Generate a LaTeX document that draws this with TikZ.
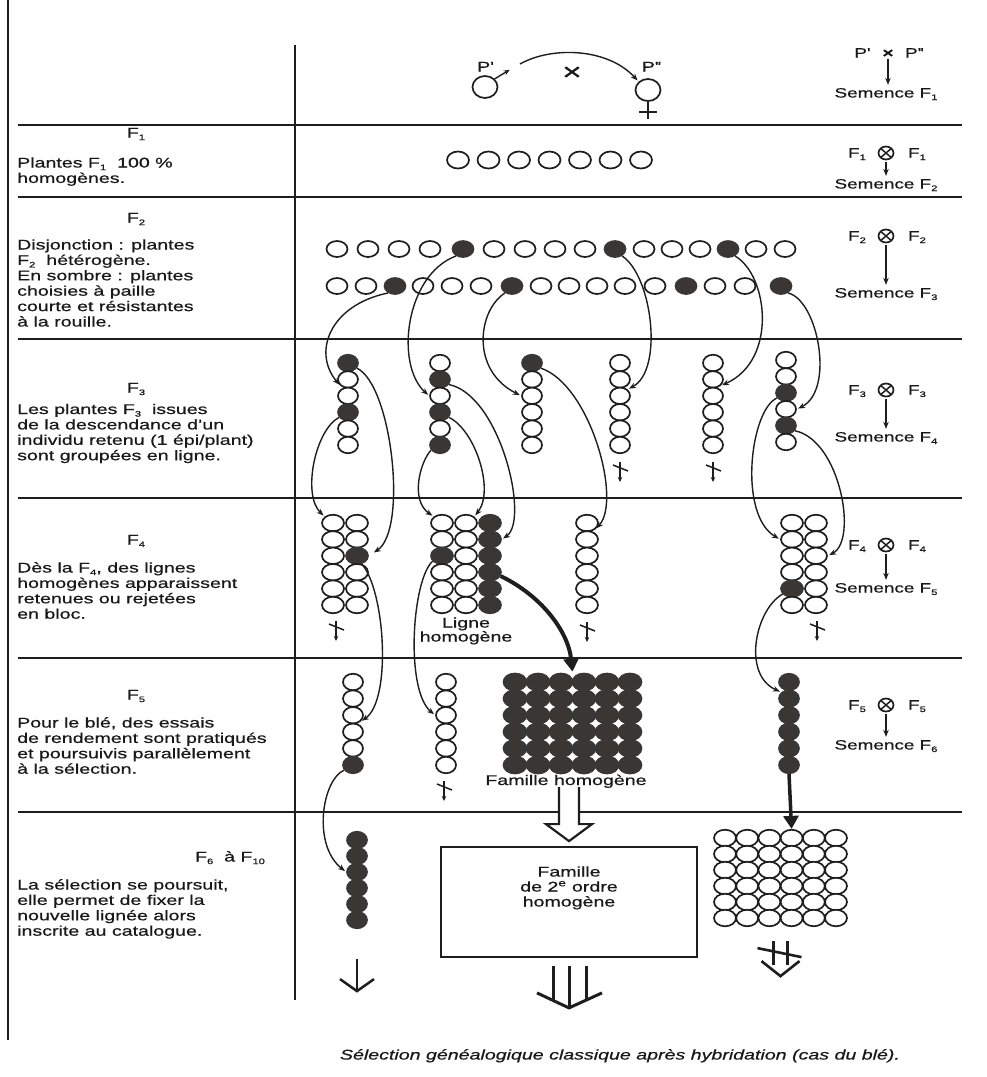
\documentclass[tikz,border=0pt]{standalone}
\usepackage{fontspec}
\setmainfont{Liberation Sans}[FakeStretch=1.4, FakeBold=0.6]
\usetikzlibrary{shapes.geometric,arrows.meta,calc}
\definecolor{ink}{RGB}{30,30,30}
\definecolor{dark}{RGB}{58,54,51}
\definecolor{txt}{RGB}{25,25,25}
\newcommand\subs[1]{\raisebox{-0.35ex}{\fontsize{8}{8}\selectfont #1}}
\newcommand\qs{\textquotesingle}
\newcommand\pcol[6]{\foreach \sty [count=\jj from 0] in {#6} {\node[plant,#5,\sty] (#1-\jj) at ({#2},{#3+#4*\jj}) {};}}
\newcommand\para[4]{\foreach \lline [count=\kk from 0] in {#4} {\node[tx] (#1-\kk) at ({#2},{#3+15.4*\kk}) {\lline};}}
\newcommand\rej[3]{\coordinate (#1) at (#2,#3);
 \draw[rejl,-{Stealth[length=5pt,width=4.5pt]}] ($(#1)+(0,-10)$) -- ($(#1)+(0,10)$);
 \draw[rejl] ($(#1)+(-7,-7)$) -- ($(#1)+(8,-1)$);}
\begin{document}
\begin{tikzpicture}[x=1pt,y=-1pt,
  tx/.style={font=\fontsize{14}{15}\selectfont, text=txt, inner sep=0pt, anchor=base west},
  lab/.style={font=\fontsize{14}{15}\selectfont, text=txt, inner sep=0pt, anchor=base},
  rlab/.style={font=\fontsize{13.5}{15}\selectfont, text=txt, inner sep=0pt, anchor=base},
  plant/.style={ellipse, draw=ink, line width=1.7pt, fill=white, inner sep=0pt},
  opn/.style={},
  ful/.style={fill=dark, draw=dark},
  sA/.style={minimum width=22pt, minimum height=17pt},
  sB/.style={minimum width=21pt, minimum height=16pt},
  sC/.style={minimum width=20pt, minimum height=16.5pt},
  sD/.style={minimum width=22pt, minimum height=16.5pt},
  sE/.style={minimum width=23pt, minimum height=17pt},
  link/.style={draw=ink, line width=1.4pt, -{Stealth[length=7pt,width=5.5pt]}, shorten >=1.5pt},
  thk/.style={draw=ink, line width=4pt, -{Triangle[length=13pt,width=15pt]}},
  hline/.style={draw=ink, line width=2pt},
  rejl/.style={draw=ink, line width=1.5pt},
  otimes/.style={ellipse, draw=ink, line width=1.7pt, minimum width=15pt, minimum height=13pt, inner sep=0pt,
    path picture={\draw[line width=1.5pt,ink] (path picture bounding box.north west) -- (path picture bounding box.south east) (path picture bounding box.north east) -- (path picture bounding box.south west);}},
]
\fill[white] (0,0) rectangle (986,1077);
\useasboundingbox (0,0) rectangle (986,1077);

% frame
\draw[ink,line width=1.5pt] (8,0) -- (8,1040);
\draw[ink,line width=2.5pt] (295,45) -- (295,1000);
\foreach \yy in {125,197,339,498,658,812} \draw[hline] (18,\yy) -- (962,\yy);

% left column texts
\node[lab] (lf1) at (136,137.5) {F\subs{1}};
\para{lt1}{17}{167.5}{{Plantes F\subs{1}\ \ 100 \%},{homogènes.}}
\node[lab] (lf2) at (136,222.5) {F\subs{2}};
\para{lt2}{17}{249.5}{{Disjonction : plantes},{F\subs{2}\ \ hétérogène.},{En sombre : plantes},{choisies à paille},{courte et résistantes},{à la rouille.}}
\node[lab] (lf3) at (136,392.5) {F\subs{3}};
\para{lt3}{17}{414}{{Les plantes F\subs{3}\ \ issues},{de la descendance d'un},{individu retenu (1 épi/plant)},{sont groupées en ligne.}}
\node[lab] (lf4) at (136,544.5) {F\subs{4}};
\para{lt4}{17}{572.5}{{Dès la F\subs{4}, des lignes},{homogènes apparaissent},{retenues ou rejetées},{en bloc.}}
\node[lab] (lf5) at (136,699.5) {F\subs{5}};
\para{lt5}{17}{727.5}{{Pour le blé, des essais},{de rendement sont pratiqués},{et poursuivis parallèlement},{à la sélection.}}
\node[lab] (lf6) at (230,861.5) {F\subs{6}\ \ à F\subs{10}};
\para{lt6}{17}{889.5}{{La sélection se poursuit,},{elle permet de fixer la},{nouvelle lignée alors},{inscrite au catalogue.}}

% right column
\node[rlab] (rpa) at (862,57.5) {P\qs};
\node[rlab,font=\bfseries\fontsize{13.5}{15}\selectfont] (rpx) at (888,57.5) {×};
\node[rlab] (rpb) at (914,57.5) {P\qs\qs};
\node[rlab] (rs1) at (886,97.5) {Semence F\subs{1}};
\draw[link,shorten <=1.5pt,shorten >=3pt] (rpx.south) -- (rpx.south |- rs1.north);
\foreach \k/\yo/\ys [evaluate=\k as \kn using int(\k+1)] in {1/153/188.5,2/236/297.5,3/390/441.5,4/545/592.5,5/705/749.5}{
  \node[rlab] (ra\k) at (857,{\yo+4.5}) {F\subs{\k}};
  \node[otimes] (ro\k) at (886,\yo) {};
  \node[rlab] (rb\k) at (917,{\yo+4.5}) {F\subs{\k}};
  \node[rlab] (rs\kn) at (886,\ys) {Semence F\subs{\kn}};
  \draw[link,shorten <=1.5pt,shorten >=3pt] (ro\k.south) -- (ro\k.south |- rs\kn.north);
}

% top: parents
\node[plant,minimum width=25pt,minimum height=22pt] (pm) at (485,87) {};
\node[plant,minimum width=25pt,minimum height=22pt] (pf) at (648,90) {};
\node[lab] (lpm) at (485,71.5) {P\qs};
\node[lab] (lpf) at (651,71.5) {P\qs\qs};
\coordinate (pmA) at (511,69);
\draw[link,-{Stealth[length=6pt,width=5pt]}] (pm.40) -- (pmA);
\draw[ink,line width=1.7pt] (pf.south) -- ++(0,17);
\draw[ink,line width=1.7pt] (pf.south) ++(-9,10) -- ++(18,0);
\coordinate (cv0) at (520,64);
\draw[link] (cv0) .. controls (552,46) and (608,48) .. (pf.north west);
\node[lab,font=\fontsize{24}{24}\selectfont] (mx) at (572,80) {×};

% F1 row
\foreach \i in {0,...,6} \node[plant,sA] (a-\i) at ({458+30.5*\i},160) {};

% F2 rows
\foreach \x/\sty [count=\i from 0] in {337/opn,368/opn,399/opn,430/opn,463/ful,494/opn,525/opn,555/opn,585/opn,615/ful,644/opn,672/opn,700/opn,728/ful,756/opn,785/opn}
  \node[plant,sB,\sty] (r1-\i) at (\x,249) {};
\foreach \x/\sty [count=\i from 0] in {337/opn,366/opn,395/ful,423/opn,452/opn,481/opn,512/ful,541/opn,569/opn,597/opn,625/opn,655/opn,686/ful,715/opn,745/opn,781/ful}
  \node[plant,sB,\sty] (r2-\i) at (\x,286) {};

% F3 columns
\pcol{c1}{348}{363}{16.4}{sC}{ful,opn,opn,ful,opn,opn}
\pcol{c2}{440}{363}{16.4}{sC}{opn,ful,opn,ful,opn,ful}
\pcol{c3}{532}{363}{16.4}{sC}{ful,opn,opn,opn,opn,opn}
\pcol{c4}{620}{363}{16.4}{sC}{opn,opn,opn,opn,opn,opn}
\pcol{c5}{713}{363}{16.4}{sC}{opn,opn,opn,opn,opn,opn}
\pcol{c6}{786}{360}{16.4}{sC}{opn,opn,ful,opn,ful,opn}
\rej{rj1}{620}{472}
\rej{rj2}{713}{472}

% F4 blocks
\pcol{A-0}{333}{523}{16.4}{sD}{opn,opn,opn,opn,opn,opn}
\pcol{A-1}{357}{523}{16.4}{sD}{opn,opn,ful,opn,opn,opn}
\pcol{B-0}{442}{523}{16.4}{sD}{opn,opn,ful,opn,opn,opn}
\pcol{B-1}{466}{523}{16.4}{sD}{opn,opn,opn,opn,opn,opn}
\pcol{B-2}{490}{523}{16.4}{sD}{ful,ful,ful,ful,ful,ful}
\pcol{C-0}{587}{523}{16.4}{sD}{opn,opn,opn,opn,opn,opn}
\pcol{D-0}{792}{523}{16.4}{sD}{opn,opn,opn,opn,ful,opn}
\pcol{D-1}{816}{523}{16.4}{sD}{opn,opn,opn,opn,opn,opn}
\rej{rj3}{336}{631}
\rej{rj4}{587}{632}
\rej{rj5}{817}{631}
\node[lab] (lg1) at (466,627.5) {Ligne};
\node[lab] (lg2) at (466,641.5) {homogène};

% F5
\pcol{e1}{353}{682}{16.6}{sC}{opn,opn,opn,opn,opn,ful}
\pcol{e2}{446}{682}{16.6}{sC}{opn,opn,opn,opn,opn,opn}
\foreach \c in {0,...,5}{\pcol{bg-\c}{515+23*\c}{682}{16.6}{sE}{ful,ful,ful,ful,ful,ful}}
\pcol{e4}{789}{682}{16.6}{sC}{ful,ful,ful,ful,ful,ful}
\rej{rj6}{444}{791}
\node[lab] (fh) at (566,785) {Famille homogène};

% F6
\pcol{g1}{357}{840}{16}{sC}{ful,ful,ful,ful,ful,ful}
\foreach \c in {0,...,5}{\pcol{ob-\c}{725+22.2*\c}{838}{16}{sD}{opn,opn,opn,opn,opn,opn}}
\node[draw=ink, line width=1.8pt, minimum width=256pt, minimum height=110pt, inner sep=0pt] (box) at (569,902) {};
\node[lab] (bx1) at (569,876.5) {Famille};
\node[lab] (bx2) at (569,891.5) {de 2\textsuperscript{e} ordre};
\node[lab] (bx3) at (569,906.5) {homogène};

% connectors F2 -> F3
\draw[link] (r2-2.225) .. controls (330,305) and (312,352) .. (c1-1.south west);
\draw[link] (r1-4.225) .. controls (405,275) and (395,365) .. (c2-2.west);
\draw[link] (r2-6.225) .. controls (478,310) and (470,370) .. (c3-2.west);
\draw[link] (r1-9.-45) .. controls (652,275) and (664,370) .. (c4-2.north east);
\draw[link] (r1-13.-45) .. controls (768,275) and (778,360) .. (c5-1.south east);
\draw[link] (r2-15.-45) .. controls (818,300) and (835,390) .. (c6-3.east);

% F3 -> F4
\draw[link] (c1-3.210) .. controls (315,430) and (302,495) .. (A-0-0.north west);
\draw[link,shorten >=6pt] (c1-0.-30) .. controls (392,385) and (408,530) .. (A-1-2.east);
\draw[link] (c2-5.210) .. controls (420,462) and (410,500) .. (B-0-0.north west);
\draw[link] (c2-3.-30) .. controls (475,430) and (495,490) .. (B-1-0.north east);
\draw[link] (c2-1.-30) .. controls (500,395) and (530,520) .. (B-2-1.east);
\draw[link] (c3-0.-30) .. controls (590,385) and (622,500) .. (C-0-0.south east);
\draw[link] (c6-2.210) .. controls (750,410) and (738,515) .. (D-0-1.west);
\draw[link] (c6-4.-30) .. controls (840,440) and (858,540) .. (D-1-2.east);

% F4 -> F5
\coordinate (bgtop) at ($(bg-2-0.north)!0.5!(bg-3-0.north)+(0,-1)$);
\draw[link] (A-1-2.-60) .. controls (385,590) and (392,700) .. (e1-2.south east);
\draw[link] (B-0-2.210) .. controls (412,580) and (405,690) .. (e2-2.west);
\draw[thk] (B-2-3.-20) .. controls (540,595) and (568,630) .. (bgtop);
\draw[link] (D-0-4.210) .. controls (755,610) and (742,675) .. (e4-1.north west);

% F5 -> F6
\draw[link] (e1-5.210) .. controls (322,780) and (312,845) .. (g1-2.west);
\draw[thk,line width=3.5pt] (e4-5.south) -- (ob-3-0.north);
\draw[ink,line width=2.2pt,fill=white] ($(box.north)+(-10,-59)$) -- ($(box.north)+(-10,-22)$) -- ($(box.north)+(-23,-22)$) -- ($(box.north)+(0,-5)$) -- ($(box.north)+(23,-22)$) -- ($(box.north)+(10,-22)$) -- ($(box.north)+(10,-59)$);

% outputs F6
\draw[ink,line width=2.5pt] (g1-5.south) ++(0,30) -- ++(0,32);
\draw[ink,line width=2.5pt] (g1-5.south) ++(-17,50) -- ++(17,12) -- ++(17,-12);
\draw[ink,line width=3pt] (box.south) ++(-16,8) -- ++(0,35);
\draw[ink,line width=3pt] (box.south) ++(0,8) -- ++(0,40);
\draw[ink,line width=3pt] (box.south) ++(17,8) -- ++(0,35);
\draw[ink,line width=3pt] (box.south) ++(-32,35) -- ++(32,15) -- ++(33,-15);
\coordinate (rjb) at ($(ob-2-5.south)!0.5!(ob-3-5.south)+(0,32)$);
\draw[ink,line width=2.6pt] (rjb) ++(-7,-18) -- ++(0,24) (rjb) ++(7,-18) -- ++(0,24);
\draw[ink,line width=2.6pt] (rjb) ++(-23,-11) -- ++(44,9);
\draw[ink,line width=2.6pt] (rjb) ++(-19,2) -- ++(19,15) -- ++(19,-15);

% caption
\node[lab,font=\itshape\fontsize{14}{16}\selectfont] (cap) at (620,1059.5) {Sélection généalogique classique après hybridation (cas du blé).};
\end{tikzpicture}
\end{document}
